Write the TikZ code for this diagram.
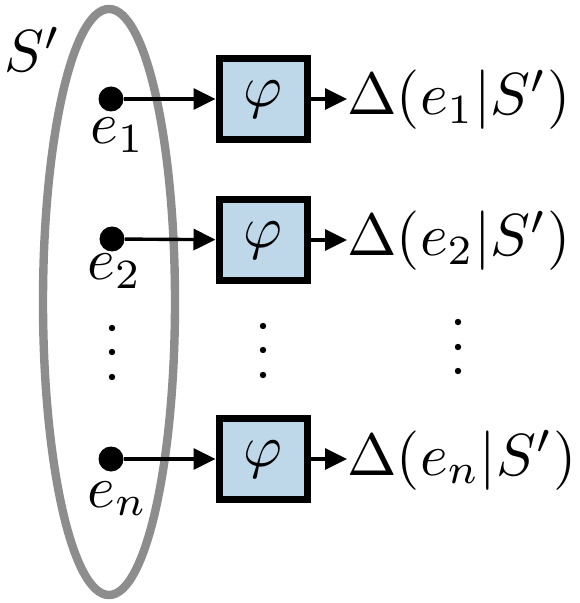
\documentclass[tikz,border=0pt]{standalone}
\usetikzlibrary{arrows.meta}
\definecolor{ringgray}{RGB}{141,141,141}
\definecolor{boxblue}{RGB}{190,216,234}
\newcommand{\bigmath}[1]{\scalebox{2.97}{$#1$}}
\begin{document}
\begin{tikzpicture}[x=0.5pt,y=-0.5pt,
  elem/.style={circle,fill=black,inner sep=0pt,minimum size=12.5pt},
  phibox/.style={draw=black,fill=boxblue,line width=3.5pt,minimum width=44pt,minimum height=40.5pt,inner sep=0pt},
  arr/.style={line width=1.7pt,-{Triangle[length=11pt,width=10.5pt]}},
  lbl/.style={inner sep=0pt,anchor=base west},
  vdot/.style={fill=black}]
\useasboundingbox (0,0) rectangle (579,603);
% ellipse
\draw[ringgray,line width=4.2pt] (109,302) ellipse [x radius=66, y radius=293];
\node[lbl] (S) at (4,72) {\bigmath{S'}};
% rows
\node[elem] (d1) at (111,99) {};
\node[elem] (d2) at (112,239) {};
\node[elem] (dn) at (111,459) {};
\node[phibox] (b1) at (263,99) {\bigmath{\varphi}};
\node[phibox] (b2) at (263,240) {\bigmath{\varphi}};
\node[phibox] (bn) at (263,459) {\bigmath{\varphi}};
\node[lbl] (o1) at (347,115) {\bigmath{\Delta(e_1|S')}};
\node[lbl] (o2) at (347,256) {\bigmath{\Delta(e_2|S')}};
\node[lbl] (on) at (347,475) {\bigmath{\Delta(e_n|S')}};
\node[lbl] (l1) at (90,144) {\bigmath{e_1}};
\node[lbl] (l2) at (87,280) {\bigmath{e_2}};
\node[lbl] (ln) at (87,507) {\bigmath{e_n}};
\draw[arr] (d1) -- (b1);
\draw[arr] (d2) -- (b2);
\draw[arr] (dn) -- (bn);
\draw[arr] (b1.east) -- (b1.east -| o1.west);
\draw[arr] (b2.east) -- (b2.east -| o2.west);
\draw[arr] (bn.east) -- (bn.east -| on.west);
% vertical dots
\foreach \y in {328,352,377} \fill[vdot] (112,\y) circle (1.6pt);
\foreach \y in {326,350,375} \fill[vdot] (263,\y) circle (1.6pt);
\foreach \y in {322,347,371} \fill[vdot] (458,\y) circle (1.6pt);
\end{tikzpicture}
\end{document}
